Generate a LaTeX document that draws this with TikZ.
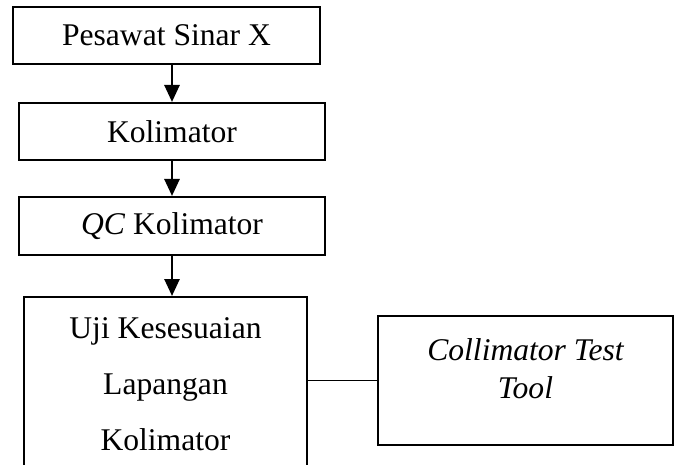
\documentclass[tikz,border=0pt]{standalone}
\usepackage{fontspec}
\setmainfont{Liberation Serif}
\usetikzlibrary{arrows.meta}

\begin{document}
\begin{tikzpicture}[x=0.5pt, y=-0.5pt, >={Triangle[length=8.5pt,width=7.5pt]},
    box/.style={draw, line width=1pt, inner sep=0pt, align=center,
      font=\fontsize{15.8}{19}\selectfont},
    flow/.style={->, line width=1.3pt},
    link/.style={line width=0.5pt}]
      \useasboundingbox (0,0) rectangle (675,465);
      \node[box, minimum width=153.5pt, minimum height=28.5pt] (pesawat) at (166.5,35.5) {Pesawat Sinar X};
      \node[box, minimum width=153pt, minimum height=28.5pt] (kolimator) at (172,131.5) {Kolimator};
      \node[box, minimum width=153pt, minimum height=29pt] (qc) at (172,226) {\textit{QC} Kolimator};
      \node[box, minimum width=141.5pt, minimum height=87pt, anchor=north,
            font=\fontsize{15.8}{28}\selectfont] (uji) at (165.5,296) {Uji Kesesuaian\\Lapangan\\Kolimator};
      \node[box, minimum width=147.5pt, minimum height=64.5pt, text depth=11.5pt,
            font=\fontsize{15.8}{19}\selectfont\itshape] (tool) at (525.5,380.5) {Collimator Test\\Tool};
      \draw[flow] (pesawat.south -| kolimator) -- (kolimator.north);
      \draw[flow] (kolimator.south) -- (qc.north);
      \draw[flow] (qc.south) -- (qc.south |- uji.north);
      \draw[link] (tool.west -| uji.east) -- (tool.west);
    \end{tikzpicture}
\end{document}
